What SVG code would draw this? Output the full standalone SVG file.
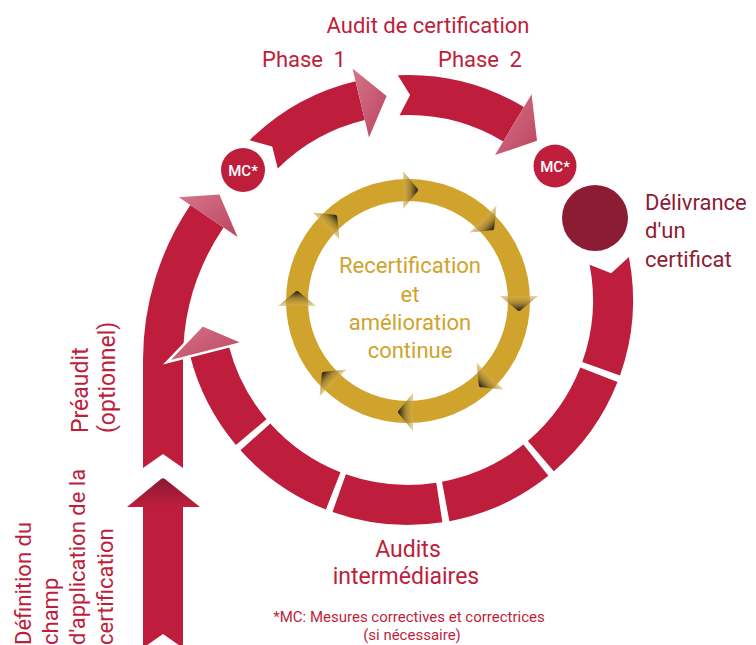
<svg xmlns="http://www.w3.org/2000/svg" width="756" height="645" viewBox="0 0 756 645">
  <defs>
    <linearGradient id="headPink" x1="0" y1="0" x2="1" y2="1">
      <stop offset="0" stop-color="#D4758A"/>
      <stop offset="1" stop-color="#BD4560"/>
    </linearGradient>
    <linearGradient id="headDark" x1="0" y1="0" x2="0" y2="1">
      <stop offset="0" stop-color="#8A1A33"/>
      <stop offset="1" stop-color="#BE1E3C"/>
    </linearGradient>
    <linearGradient id="goldHead" x1="0" y1="0" x2="1" y2="0">
      <stop offset="0" stop-color="#D8B050" stop-opacity="0.55"/>
      <stop offset="0.5" stop-color="#9C7E30" stop-opacity="0.85"/>
      <stop offset="1" stop-color="#1C1C1C"/>
    </linearGradient>
    <!-- small arrowhead riding on the gold cycle, pointing along +x -->
    <path id="goldTip" d="M-5,-19 L9,-2 Q11,0 9,2 L-5,19 Z" fill="url(#goldHead)"/>
  </defs>
  <style>
    text { font-family: Roboto, "Liberation Sans", sans-serif; }
    .band { fill: #BE1E3C; }
    .head { fill: url(#headPink); }
    .lbl { fill: #BE1E3C; font-size: 22px; }
    .lbl23 { fill: #BE1E3C; font-size: 23px; }
    .mc { fill: #BE1E3C; }
    .mctxt { fill: #FFFFFF; font-size: 15px; font-weight: 500; text-anchor: middle; }
    .gold { fill: #D0A32C; font-size: 22px; text-anchor: middle; }
    .dark { fill: #8B1C33; font-size: 22px; }
    .note { fill: #BE1E3C; font-size: 15px; text-anchor: middle; }
  </style>

  <rect width="756" height="645" fill="#FFFFFF"/>

  <!-- gold improvement cycle -->
  <g id="recertification">
    <circle cx="408" cy="301" r="111" fill="none" stroke="#D0A32C" stroke-width="22"/>
    <use href="#goldTip" transform="translate(408 190) rotate(0)"/>
    <use href="#goldTip" transform="translate(486.5 222.5) rotate(45)"/>
    <use href="#goldTip" transform="translate(519 301) rotate(90)"/>
    <use href="#goldTip" transform="translate(486.5 379.5) rotate(135)"/>
    <use href="#goldTip" transform="translate(408 412) rotate(180)"/>
    <use href="#goldTip" transform="translate(329.5 379.5) rotate(225)"/>
    <use href="#goldTip" transform="translate(297 301) rotate(270)"/>
    <use href="#goldTip" transform="translate(329.5 222.5) rotate(315)"/>
    <text class="gold" x="410" y="273">Recertification</text>
    <text class="gold" x="410" y="302">et</text>
    <text class="gold" x="410" y="330">amélioration</text>
    <text class="gold" x="410" y="358">continue</text>
  </g>

  <g id="connectors">
    <!-- scope definition: straight arrow up from the bottom edge -->
    <g id="definition-arrow">
      <path class="band" d="M143,505 L143,648 L163,634 L183,648 L183,505 Z"/>
      <path d="M127,507 L161,479 Q163,477.5 165,479 L200,507 Z" fill="url(#headDark)"/>
    </g>

    <!-- pre-audit: vertical band bending into an arc -->
    <g id="preaudit-arrow">
      <path class="band" d="M143,468 L143,360 A277 277 0 0 1 190.4,205.1 L223.5,227.5 A237 237 0 0 0 183,360 L183,468 L163,454 Z"/>
      <path class="head" d="M178.8,197.3 L219.4,194.6 L237.6,237 Z"/>
    </g>

    <!-- certification audit, phase 1 -->
    <g id="phase1-arrow">
      <path class="band" d="M249.6,140.2 A225 225 0 0 1 355.5,81.2 L364.8,120.1 A185 185 0 0 0 277.8,168.6 L272.2,146.5 Z"/>
      <path class="head" d="M352.5,68.6 L386.6,96.1 L369,137.6 Z"/>
    </g>

    <!-- certification audit, phase 2 -->
    <g id="phase2-arrow">
      <path class="band" d="M397.8,75.2 A225 225 0 0 1 523.9,107.1 L503.3,141.4 A185 185 0 0 0 399.6,115.2 L410.1,95 Z"/>
      <path class="head" d="M531.6,94.3 L537,140.7 L495,155.1 Z"/>
    </g>

    <!-- surveillance audits: segmented ring -->
    <g id="surveillance-ring">
      <path class="band" d="M628.9,257.1 A225 225 0 0 1 620,375.5 L582.3,362.1 A185 185 0 0 0 589.6,264.7 L611.2,273.2 Z"/>
      <path class="band" d="M617.5,382.1 A225 225 0 0 1 553.8,471.3 L527.9,440.9 A185 185 0 0 0 580.3,367.5 Z"/>
      <path class="band" d="M548.4,475.8 A225 225 0 0 1 449.4,521.2 L442,481.8 A185 185 0 0 0 523.4,444.6 Z"/>
      <path class="band" d="M442.4,522.3 A225 225 0 0 1 332.5,512 L345.9,474.3 A185 185 0 0 0 436.3,482.8 Z"/>
      <path class="band" d="M325.9,509.5 A225 225 0 0 1 240.5,450.3 L270.3,423.5 A185 185 0 0 0 340.5,472.3 Z"/>
      <path class="band" d="M235.9,444.9 A225 225 0 0 1 190.2,356.3 L228.9,346.3 A185 185 0 0 0 266.5,419.2 Z"/>
      <path class="head" d="M243.4,342.6 L202.5,325.2 L166.9,362.3 Z" stroke="#FFFFFF" stroke-width="2.5" stroke-linejoin="miter"/>
    </g>
  </g>

  <!-- corrective measures markers -->
  <g id="mc-1">
    <circle class="mc" cx="243" cy="170" r="22"/>
    <text class="mctxt" x="243" y="175.5">MC*</text>
  </g>
  <g id="mc-2">
    <circle class="mc" cx="555" cy="166" r="21.5"/>
    <text class="mctxt" x="555" y="171.5">MC*</text>
  </g>

  <!-- certificate issued -->
  <g id="delivrance">
    <circle cx="595" cy="218" r="33" fill="#8B1C33"/>
    <text class="dark" x="645" y="210">Délivrance</text>
    <text class="dark" x="645" y="238">d'un</text>
    <text class="dark" x="645" y="267">certificat</text>
  </g>

  <!-- labels -->
  <g id="labels">
    <text class="lbl" x="428" y="33" text-anchor="middle">Audit de certification</text>
    <text class="lbl" x="262" y="67">Phase <tspan dx="5">1</tspan></text>
    <text class="lbl" x="438" y="67">Phase <tspan dx="5">2</tspan></text>
    <text class="lbl23" transform="translate(88 433) rotate(-90)">Préaudit</text>
    <text class="lbl23" transform="translate(115 433) rotate(-90)">(optionnel)</text>
    <text class="lbl" transform="translate(31 645) rotate(-90)">Définition du</text>
    <text class="lbl" transform="translate(58 645) rotate(-90)">champ</text>
    <text class="lbl" transform="translate(85 645) rotate(-90)">d'application de la</text>
    <text class="lbl" transform="translate(113 645) rotate(-90)">certification</text>
    <text class="lbl23" x="408" y="557" text-anchor="middle">Audits</text>
    <text class="lbl23" x="406" y="584" text-anchor="middle">intermédiaires</text>
    <text class="note" x="409" y="622">*MC: Mesures correctives et correctrices</text>
    <text class="note" x="412" y="640">(si nécessaire)</text>
  </g>
</svg>
